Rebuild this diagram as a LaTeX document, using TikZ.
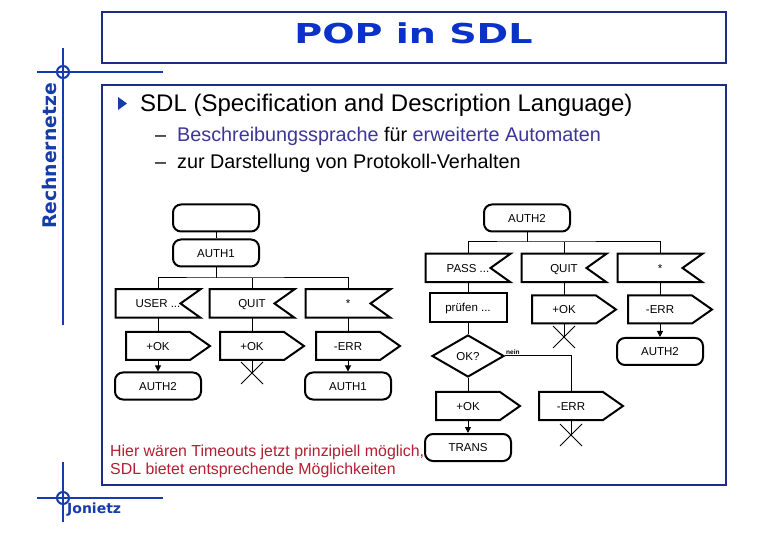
\documentclass[tikz,border=0pt]{standalone}
\usepackage{fontspec}
\setmainfont{Liberation Sans}
\newfontfamily\headfont{DejaVu Sans}
\usepackage{graphicx}
\usepackage{xcolor}
\usepackage{tikz}
\usetikzlibrary{arrows.meta,positioning,shapes.geometric,shapes.misc}
\definecolor{framenavy}{RGB}{30,45,130}
\definecolor{crossblue}{RGB}{20,60,170}
\definecolor{titleblue}{RGB}{10,50,200}
\definecolor{termblue}{RGB}{60,55,150}
\definecolor{notered}{RGB}{180,30,50}

\begin{document}
\begin{tikzpicture}[x=1pt,y=-1pt,
		sdl/.style={font=\fontsize{11.5}{13}\selectfont, inner sep=0pt, text height=10pt, text depth=1.8pt},
		state/.style={sdl, draw, line width=2pt, rounded corners=8pt, minimum width=86pt, minimum height=27pt},
		sigin/.style={sdl, outer sep=0pt, minimum width=85pt, minimum height=28.5pt},
		sigout/.style={sdl, outer sep=0pt, minimum width=64pt, minimum height=28pt},
		task/.style={sdl, draw, line width=2pt, minimum width=77pt, minimum height=29pt},
		decision/.style={sdl, draw, diamond, line width=2pt, minimum width=72pt, minimum height=42pt},
		stopx/.style={draw, cross out, line width=1pt, minimum size=21pt, inner sep=0pt},
		flow/.style={line width=1pt},
		arr/.style={flow, -{Triangle[width=6pt,length=6pt]}},
		hair/.style={crossblue, line width=2.5pt},
		line1/.style={anchor=base west, inner sep=0pt, font=\fontsize{19.8}{23}\selectfont},
		note/.style={anchor=base west, inner sep=0pt, text=notered, font=\fontsize{15.9}{18}\selectfont}]
	\fill[white] (0,0) rectangle (780,540);
	\draw[framenavy, line width=1.5pt] (102,12) rectangle (726,63);
	\draw[framenavy, line width=1.5pt] (102,85) rectangle (726,485);
	\draw[hair] (63,48) -- (63,325) (37,72) -- (163,72);
	\draw[hair, line width=2pt] (63,72) circle[radius=6];
	\draw[hair] (63,462) -- (63,522) (37,498) -- (163,498);
	\draw[hair, line width=2pt] (63,498) circle[radius=6];

	\node[text=titleblue, inner sep=0pt, font=\headfont\bfseries\fontsize{27.4}{30}\selectfont] (title) at (413.5,33) {\scalebox{1.39}[1]{POP in SDL}};
	\node[rotate=90, text=crossblue, inner sep=0pt, font=\headfont\bfseries\fontsize{18.8}{20}\selectfont] (side) at (49,156) {Rechnernetze};
	\node[anchor=base west, text=crossblue, inner sep=0pt, font=\headfont\bfseries\fontsize{14}{16}\selectfont] (author) at (67,513) {Jonietz};

	\fill[crossblue] (118,97) -- (127,103.5) -- (118,110) -- cycle;
	\node[anchor=base west, inner sep=0pt, font=\fontsize{24}{28}\selectfont] (head) at (140,112) {SDL (Specification and Description Language)};
	\node[line1] (dash1) at (155,142) {\textendash};
	\node[line1] (item1) at (177,142) {\textcolor{termblue}{Beschreibungssprache} für \textcolor{termblue}{erweiterte Automaten}};
	\node[line1] (dash2) at (155,169) {\textendash};
	\node[line1] (item2) at (177,169) {zur Darstellung von Protokoll-Verhalten};

	\node[state] (st1) at (216,218) {};
	\node[state] (a1) at (216,253) {AUTH1};
	\coordinate (f1) at (216,278);
	\node[sigin] (in1) at (158,303.5) {USER ...};
	\node[sigin] (in2) at (252,303.5) {QUIT};
	\node[sigin] (in3) at (348,303.5) {*};
	\node[sigout] (out1) at (158,346) {+OK};
	\node[sigout] (out2) at (252,346) {+OK};
	\node[sigout] (out3) at (348,346) {-ERR};
	\node[state] (a2) at (158,386) {AUTH2};
	\node[stopx] (x1) at (252,373) {};
	\node[state] (a1b) at (348,386) {AUTH1};

	\node[state] (st2) at (527,218) {AUTH2};
	\coordinate (f2) at (527,242);
	\node[sigin] (in4) at (468,268) {PASS ...};
	\node[sigin] (in5) at (564,268) {QUIT};
	\node[sigin] (in6) at (660,268) {*};
	\node[task] (chk) at (468,307.5) {prüfen ...};
	\node[sigout] (out4) at (564,309.5) {+OK};
	\node[sigout] (out5) at (660,309.5) {-ERR};
	\node[stopx] (x2) at (564,337) {};
	\node[state] (a3) at (660,351.5) {AUTH2};
	\node[decision] (ok) at (468,356) {OK?};
	\node[anchor=south west, inner sep=1pt, font=\bfseries\fontsize{6.5}{7}\selectfont] (nein) at (ok.east) {nein};
	\node[sigout] (out6) at (468,406) {+OK};
	\node[sigout] (out7) at (571,406) {-ERR};
	\node[state] (tr) at (468,447.5) {TRANS};
	\node[stopx] (x3) at (571,435) {};

	\foreach \n in {in1,in2,in3,in4,in5,in6}
		\draw[line width=2pt] (\n.north west) -- (\n.north east) -- ([xshift=-20pt]\n.east) -- (\n.south east) -- (\n.south west) -- cycle;
	\foreach \n in {out1,out2,out3,out4,out5,out6,out7}
		\draw[line width=2pt] (\n.north west) -- (\n.north east) -- ([xshift=20pt]\n.east) -- (\n.south east) -- (\n.south west) -- cycle;

	\draw[flow] (st1) -- (a1);
	\draw[flow] (a1) -- (f1);
	\draw[flow] (in1.north) |- (f1) -| (in3.north);
	\draw[flow] (in2.north) -- (in2.north |- f1);
	\draw[flow] (in1) -- (out1);
	\draw[arr] (out1) -- (a2);
	\draw[flow] (in2) -- (out2);
	\draw[flow] (out2) -- (x1.center);
	\draw[flow] (in3) -- (out3);
	\draw[arr] (out3) -- (a1b);

	\draw[flow] (st2) -- (f2);
	\draw[flow] (in4.north) |- (f2) -| (in6.north);
	\draw[flow] (in5.north) -- (in5.north |- f2);
	\draw[flow] (in4) -- (chk);
	\draw[flow] (chk) -- (ok);
	\draw[flow] (in5) -- (out4);
	\draw[flow] (out4) -- (x2.center);
	\draw[flow] (in6) -- (out5);
	\draw[arr] (out5) -- (a3);
	\draw[flow] (ok) -- (out6);
	\draw[arr] (out6) -- (tr);
	\draw[flow] (ok.east) -| (out7.north);
	\draw[flow] (out7) -- (x3.center);

	\node[note] (note1) at (110,456) {Hier wären Timeouts jetzt prinzipiell möglich,};
	\node[note] (note2) at (110,474) {SDL bietet entsprechende Möglichkeiten};
\end{tikzpicture}
\end{document}
